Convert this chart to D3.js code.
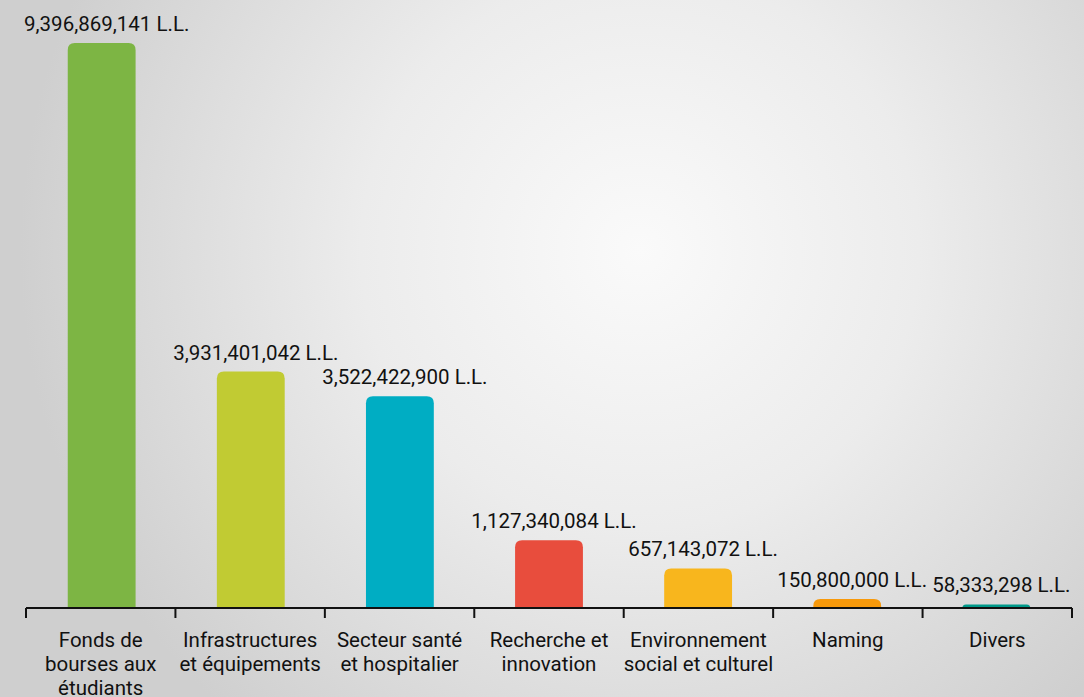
<!DOCTYPE html>
<html>
<head>
<meta charset="utf-8">
<script src="https://cdn.jsdelivr.net/npm/d3@7"></script>
<style>
  body { margin:0; }
  svg { display:block; font-family: Roboto, "Open Sans", sans-serif; }
</style>
</head>
<body>
<div id="canvas"></div>
<script>
var W = 1084, H = 697;
var m = {t:43, r:12, b:90, l:26};
var w = W - m.l - m.r, h = H - m.t - m.b;

// data
var categories = [
  ["Fonds de", "bourses aux", "étudiants"],
  ["Infrastructures", "et équipements"],
  ["Secteur santé", "et hospitalier"],
  ["Recherche et", "innovation"],
  ["Environnement", "social et culturel"],
  ["Naming"],
  ["Divers"]
];
var values = [9396869141, 3931401042, 3522422900, 1127340084, 657143072, 150800000, 58333298];
var colors = ["#7db544", "#c1cb33", "#00adc3", "#e84d3d", "#f8b61d", "#f7990b", "#00998a"];

var svg = d3.select('#canvas').append('svg')
  .attr('width', W).attr('height', H);

var defs = svg.append('defs');
var grad = defs.append('radialGradient')
  .attr('id', 'bg')
  .attr('gradientUnits', 'userSpaceOnUse')
  .attr('cx', 640).attr('cy', 250).attr('r', 620);
grad.append('stop').attr('offset', '0%').attr('stop-color', '#fafafa');
grad.append('stop').attr('offset', '45%').attr('stop-color', '#ececec');
grad.append('stop').attr('offset', '100%').attr('stop-color', '#cfcfcf');
svg.append('rect').attr('width', W).attr('height', H).attr('fill', 'url(#bg)');

var plot = svg.append('g').attr('transform', 'translate(' + m.l + ',' + m.t + ')');

var scaleX = d3.scaleBand()
  .domain(d3.range(values.length))
  .range([0, w])
  .paddingInner(0.545)
  .paddingOuter(0.28);
var scaleY = d3.scaleLinear()
  .domain([0, d3.max(values)])
  .range([h + 1, 0]);

function topRounded(x, y, bw, bh, r) {
  r = Math.min(r, bh, bw / 2);
  return 'M' + x + ',' + (y + bh) +
    'V' + (y + r) +
    'Q' + x + ',' + y + ' ' + (x + r) + ',' + y +
    'H' + (x + bw - r) +
    'Q' + (x + bw) + ',' + y + ' ' + (x + bw) + ',' + (y + r) +
    'V' + (y + bh) + 'Z';
}

plot.selectAll('.bar').data(values).enter()
  .append('path')
  .attr('class', 'bar')
  .attr('fill', function(d, i) { return colors[i]; })
  .attr('d', function(d, i) {
    var y = scaleY(d);
    return topRounded(scaleX(i), y, scaleX.bandwidth(), h + 1 - y, 7);
  });

plot.selectAll('.label').data(values).enter()
  .append('text')
  .attr('class', 'label')
  .attr('x', function(d, i) { return scaleX(i) + scaleX.bandwidth() / 2 + 5; })
  .attr('y', function(d) { return scaleY(d) - 12; })
  .attr('text-anchor', 'middle')
  .attr('font-size', 20.5)
  .attr('fill', '#111')
  .text(function(d) { return d3.format(',')(d) + ' L.L.'; });

// axis
var axisScale = d3.scaleLinear().domain([0, values.length]).range([0, w]);
var axis = plot.append('g').attr('transform', 'translate(0,' + (h + 1) + ')');
axis.append('line')
  .attr('x1', 0).attr('x2', w).attr('y1', 0).attr('y2', 0)
  .attr('stroke', '#111').attr('stroke-width', 2);
axis.selectAll('.tick').data(d3.range(values.length + 1)).enter()
  .append('line')
  .attr('x1', function(d) { return axisScale(d); })
  .attr('x2', function(d) { return axisScale(d); })
  .attr('y1', 0).attr('y2', 10)
  .attr('stroke', '#111').attr('stroke-width', 2);

var cat = axis.selectAll('.cat').data(categories).enter()
  .append('text')
  .attr('class', 'cat')
  .attr('text-anchor', 'middle')
  .attr('font-size', 20.5)
  .attr('fill', '#111')
  .attr('x', function(d, i) { return axisScale(i + 0.5); })
  .attr('y', 39);
cat.selectAll('tspan').data(function(d) { return d; }).enter()
  .append('tspan')
  .attr('x', function() { return d3.select(this.parentNode).attr('x'); })
  .attr('dy', function(d, i) { return i === 0 ? 0 : 24; })
  .text(function(d) { return d; });
</script>
</body>
</html>
